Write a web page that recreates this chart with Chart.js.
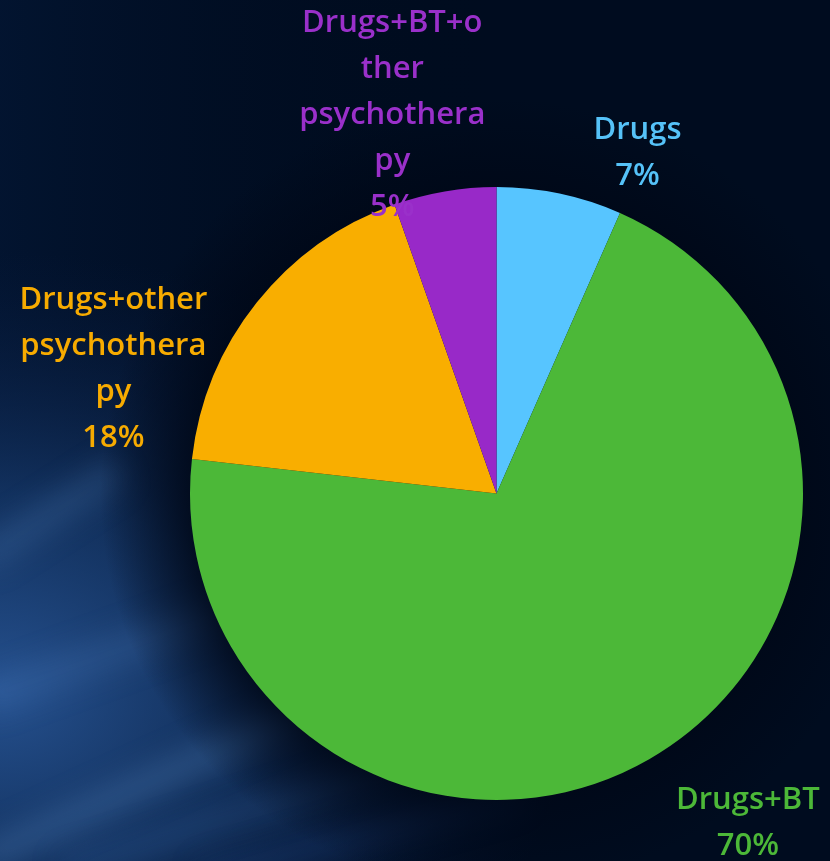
<!DOCTYPE html>
<html>
<head>
<meta charset="utf-8">
<script src="https://cdn.jsdelivr.net/npm/chart.js@4/dist/chart.umd.min.js"></script>
<style>
  html, body { margin: 0; padding: 0; background: #000d20; }
  #wrap { width: 830px; height: 861px; position: relative; }
</style>
</head>
<body>
<div id="wrap"><canvas id="pieChart" width="830" height="861"></canvas></div>
<script>
// Chart data
const categories = [
  ['Drugs'],
  ['Drugs+BT'],
  ['Drugs+other', 'psychothera', 'py'],
  ['Drugs+BT+o', 'ther', 'psychothera', 'py']
];
const shares = [6.6, 70.2, 17.8, 5.4];
const sliceColors = ['#57C5FF', '#4CB838', '#F9AE00', '#9829C8'];
const textColors = ['#55C2F8', '#4CB838', '#F7AB00', '#9A30CA'];

// Label anchor (centre of text block), in radius units from pie centre
const labelAnchors = [
  { x: 0.46, y: -1.11 },
  { x: 0.82, y: 1.075 },
  { x: -1.25, y: -0.405 },
  { x: -0.34, y: -1.235 }
];

// Background: dark navy with blue light streaks bottom-left
const backgroundPlugin = {
  id: 'slideBackground',
  beforeDraw(chart) {
    const ctx = chart.ctx;
    const w = chart.width, h = chart.height;
    ctx.save();
    ctx.fillStyle = '#000c1f';
    ctx.fillRect(0, 0, w, h);

    let g = ctx.createLinearGradient(0, 0, w * 0.6, 0);
    g.addColorStop(0, 'rgba(3,22,52,0.8)');
    g.addColorStop(1, 'rgba(0,10,28,0)');
    ctx.fillStyle = g;
    ctx.fillRect(0, 0, w, h);

    // big soft blue glow lower left
    ctx.translate(0, h);
    ctx.scale(1.3, 1);
    g = ctx.createRadialGradient(0, -170, 0, 0, -170, 440);
    g.addColorStop(0, 'rgba(44,92,160,0.85)');
    g.addColorStop(0.45, 'rgba(28,68,125,0.6)');
    g.addColorStop(1, 'rgba(10,30,70,0)');
    ctx.fillStyle = g;
    ctx.fillRect(-100, -h, w, h);
    ctx.setTransform(1, 0, 0, 1, 0, 0);

    // streaks
    ctx.filter = 'blur(14px)';
    const streaks = [
      [[-20, 560], [120, 470], 'rgba(90,140,200,0.22)', 30],
      [[-20, 700], [260, 600], 'rgba(80,130,195,0.2)', 34],
      [[-20, 860], [330, 700], 'rgba(100,150,210,0.25)', 30],
      [[60, 870], [420, 760], 'rgba(70,120,190,0.2)', 26],
      [[200, 880], [520, 790], 'rgba(40,80,150,0.25)', 30]
    ];
    streaks.forEach(s => {
      ctx.strokeStyle = s[2];
      ctx.lineWidth = s[3];
      ctx.beginPath();
      ctx.moveTo(s[0][0], s[0][1]);
      ctx.lineTo(s[1][0], s[1][1]);
      ctx.stroke();
    });
    ctx.filter = 'none';

    // darker band hugging the pie
    const area = chart.chartArea;
    const cx = (area.left + area.right) / 2;
    const cy = (area.top + area.bottom) / 2;
    const r = Math.min(area.right - area.left, area.bottom - area.top) / 2;
    g = ctx.createRadialGradient(cx, cy, r, cx, cy, r + 90);
    g.addColorStop(0, 'rgba(0,8,24,0.85)');
    g.addColorStop(1, 'rgba(0,8,24,0)');
    ctx.fillStyle = g;
    ctx.beginPath();
    ctx.arc(cx, cy, r + 90, 0, Math.PI * 2);
    ctx.fill();
    ctx.restore();
  }
};

// Outside labels: category text plus rounded percentage
const outsideLabels = {
  id: 'outsideLabels',
  afterDatasetsDraw(chart) {
    const ctx = chart.ctx;
    const meta = chart.getDatasetMeta(0);
    const total = shares.reduce((a, b) => a + b, 0);
    const lineH = 46;
    ctx.save();
    ctx.font = '600 31px "Open Sans", sans-serif';
    ctx.textAlign = 'center';
    ctx.textBaseline = 'middle';
    meta.data.forEach((arc, i) => {
      const r = arc.outerRadius;
      const lines = categories[i].concat([Math.round(shares[i] / total * 100) + '%']);
      const bx = arc.x + labelAnchors[i].x * r;
      const by = arc.y + labelAnchors[i].y * r;
      const y0 = by - (lines.length - 1) * lineH / 2;
      ctx.fillStyle = textColors[i];
      lines.forEach((t, k) => ctx.fillText(t, bx, y0 + k * lineH));
    });
    ctx.restore();
  }
};

new Chart(document.getElementById('pieChart'), {
  type: 'pie',
  data: {
    labels: categories.map(c => c.join('')),
    datasets: [{
      data: shares,
      backgroundColor: sliceColors,
      borderWidth: 0
    }]
  },
  options: {
    responsive: false,
    animation: false,
    layout: { padding: { left: 190, right: 27, top: 187, bottom: 61 } },
    plugins: {
      legend: { display: false },
      tooltip: { enabled: false }
    }
  },
  plugins: [backgroundPlugin, outsideLabels]
});
</script>
</body>
</html>
